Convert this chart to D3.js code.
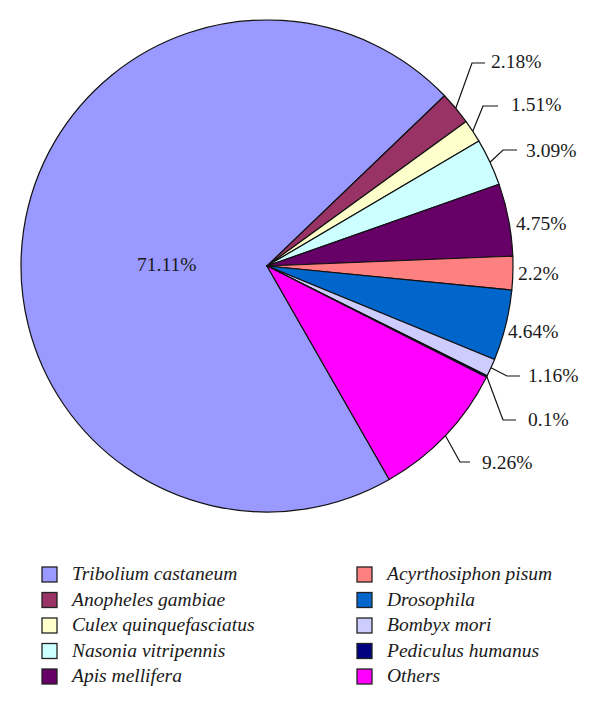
<!DOCTYPE html>
<html><head><meta charset="utf-8">
<script src="https://cdn.jsdelivr.net/npm/d3@7"></script>
<style>
html,body{margin:0;padding:0;background:#fff;}
svg{display:block;}
text{font-family:"Liberation Serif","DejaVu Serif",serif;fill:#1a1a1a;}
</style></head>
<body>
<script>
// ---- data ----
const categories = ["Tribolium castaneum","Anopheles gambiae","Culex quinquefasciatus","Nasonia vitripennis","Apis mellifera","Acyrthosiphon pisum","Drosophila","Bombyx mori","Pediculus humanus","Others"];
const values = [71.11, 2.18, 1.51, 3.09, 4.75, 2.2, 4.64, 1.16, 0.1, 9.26];
const valueLabels = ["71.11%","2.18%","1.51%","3.09%","4.75%","2.2%","4.64%","1.16%","0.1%","9.26%"];
const colors = ["#9999FF","#993366","#FFFFCC","#CCFFFF","#660066","#FF8080","#0066CC","#CCCCFF","#000080","#FF00FF"];

// ---- layout (label placement: text left x, baseline y, leader elbow x, leader end x, leader y) ----
const labelLayout = [
  {x:137, y:271},
  {x:491, y:68, ex:472, ee:485, ly:63},
  {x:511, y:111, ex:483, ee:498, ly:106},
  {x:526, y:157, ex:503, ee:517, ly:150},
  {x:516, y:230},
  {x:518, y:280},
  {x:508, y:338},
  {x:528, y:382, ex:507, ee:520, ly:376},
  {x:528, y:426, ex:503, ee:516, ly:420},
  {x:482, y:469, ex:460, ee:470, ly:462}
];

const W = 600, H = 708;
const cx = 267, cy = 266, R = 246;
const startDeg = 150.2;

const svg = d3.select("body").append("svg").attr("width", W).attr("height", H);

const pie = d3.pie().value(d => d).sort(null)
  .startAngle(startDeg * Math.PI / 180)
  .endAngle(startDeg * Math.PI / 180 + 2 * Math.PI);
const arcs = pie(values);
const arc = d3.arc().innerRadius(0).outerRadius(R);

const g = svg.append("g").attr("transform", `translate(${cx},${cy})`);
g.selectAll("path.slice").data(arcs).join("path")
  .attr("class","slice")
  .attr("d", arc)
  .attr("fill", (d,i) => colors[i])
  .attr("stroke", "#111")
  .attr("stroke-width", 1.2)
  .attr("stroke-linejoin","round");

// leader lines
arcs.forEach((d,i) => {
  const L = labelLayout[i];
  if (L.ex === undefined) return;
  const mid = (d.startAngle + d.endAngle) / 2;
  const sx = cx + R * Math.sin(mid), sy = cy - R * Math.cos(mid);
  svg.append("polyline")
    .attr("points", `${sx},${sy} ${L.ex},${L.ly} ${L.ee},${L.ly}`)
    .attr("fill","none").attr("stroke","#111").attr("stroke-width",1.2);
});

// value labels
svg.selectAll("text.val").data(arcs).join("text")
  .attr("class","val")
  .attr("x", (d,i) => labelLayout[i].x)
  .attr("y", (d,i) => labelLayout[i].y)
  .attr("font-size", 19.5)
  .text((d,i) => valueLabels[i]);

// legend
const legend = svg.append("g");
const colX = [42, 357], rowY0 = 567, rowH = 25.5, box = 15;
categories.forEach((c,i) => {
  const col = Math.floor(i / 5), row = i % 5;
  const x = colX[col], y = rowY0 + row * rowH;
  legend.append("rect").attr("x", x).attr("y", y).attr("width", box).attr("height", box)
    .attr("fill", colors[i]).attr("stroke","#222").attr("stroke-width",1.3);
  legend.append("text").attr("x", x + 30).attr("y", y + 13)
    .attr("font-size", 19.5).attr("font-style","italic").text(c);
});
</script>
</body></html>
